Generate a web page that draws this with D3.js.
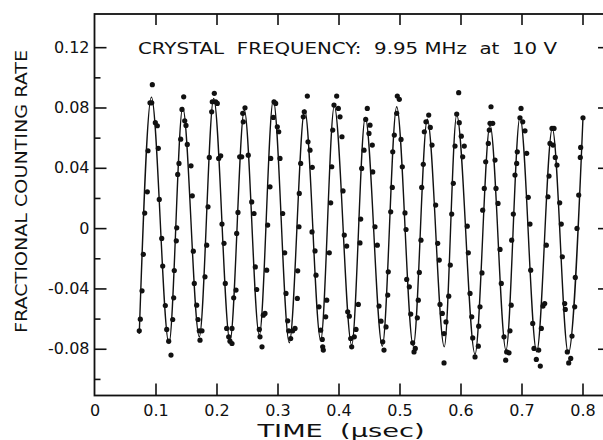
<!DOCTYPE html>
<html><head><meta charset="utf-8">
<script src="https://cdn.jsdelivr.net/npm/d3@7/dist/d3.min.js"></script>
<style>
html,body{margin:0;padding:0;background:#fff;}
svg{display:block;}
text{font-family:"DejaVu Sans",sans-serif;fill:#111;}
</style></head>
<body><svg id="c" width="603" height="440"></svg>
<script>
// ---- data ----
const dotTime = [
0.0734,0.0751,0.0779,0.0800,0.0823,0.0866,0.0877,0.0910,0.0938,0.0948,0.0997,0.1030,0.1046,0.1062,0.1102,0.1118,0.1161,0.1184,0.1216,0.1254,
0.1282,0.1298,0.1308,0.1341,0.1348,0.1364,0.1385,0.1413,0.1434,0.1462,0.1479,0.1500,0.1521,0.1582,0.1603,0.1620,0.1636,0.1675,0.1697,0.1718,0.1730,0.1762,
0.1811,0.1839,0.1861,0.1882,0.1921,0.1931,0.1964,0.1987,0.2013,0.2036,0.2069,0.2090,0.2123,0.2144,0.2167,0.2200,0.2221,0.2254,0.2254,
0.2282,0.2320,0.2331,0.2352,0.2380,0.2413,0.2430,0.2439,0.2467,0.2521,0.2577,0.2615,0.2636,0.2659,0.2702,0.2713,0.2746,
0.2767,0.2795,0.2823,0.2839,0.2877,0.2889,0.2931,0.2943,0.2970,0.2997,0.3020,0.3041,0.3085,0.3118,0.3139,0.3167,0.3184,0.3216,0.3249,
0.3287,0.3325,0.3331,0.3352,0.3357,0.3380,0.3423,0.3439,0.3489,0.3500,0.3533,0.3570,0.3566,0.3615,0.3631,0.3680,0.3708,0.3734,0.3751,0.3741,
0.3790,0.3807,0.3849,0.3872,0.3889,0.3905,0.3926,0.3970,0.3997,0.4025,0.4057,0.4074,0.4095,0.4134,0.4151,0.4177,0.4200,0.4216,0.4259,0.4287,
0.4325,0.4352,0.4364,0.4380,0.4418,0.4446,0.4472,0.4500,0.4516,0.4554,0.4561,0.4598,0.4636,0.4664,0.4697,0.4725,0.4746,0.4779,
0.4807,0.4816,0.4856,0.4882,0.4889,0.4915,0.4954,0.4964,0.4997,0.5025,0.5046,0.5090,0.5107,0.5118,0.5161,0.5184,0.5216,0.5238,0.5259,
0.5292,0.5308,0.5325,0.5352,0.5364,0.5390,0.5407,0.5434,0.5479,0.5505,0.5533,0.5593,0.5626,0.5652,0.5664,0.5702,0.5730,0.5730,0.5762,
0.5807,0.5833,0.5856,0.5882,0.5910,0.5938,0.5970,0.5980,0.6013,0.6036,0.6062,0.6111,0.6128,0.6156,0.6184,0.6200,0.6238,0.6292,
0.6298,0.6320,0.6352,0.6364,0.6390,0.6413,0.6456,0.6472,0.6484,0.6500,0.6528,0.6566,0.6582,0.6615,0.6648,0.6669,0.6713,0.6741,0.6757,0.6795,0.6811,
0.6831,0.6839,0.6866,0.6893,0.6921,0.6931,0.6975,0.6992,0.7020,0.7057,0.7085,0.7111,0.7139,0.7151,0.7184,0.7205,0.7243,0.7282,0.7308,0.7325,
0.7352,0.7380,0.7407,0.7434,0.7451,0.7467,0.7500,0.7533,0.7516,0.7554,0.7582,0.7626,0.7652,0.7669,0.7708,0.7718,0.7751,0.7774,0.7807,0.7828,
0.7872,0.7882,0.7910,0.7938,0.7964,0.7970,0.8008
];
const dotRate = [
-0.0681,-0.0604,-0.0416,-0.0174,0.0100,0.0241,0.0513,0.0831,0.0831,0.0951,0.0699,0.0679,0.0529,0.0190,-0.0068,-0.0252,-0.0513,-0.0672,-0.0750,-0.0842,
-0.0606,-0.0462,-0.0281,-0.0084,0.0002,0.0356,0.0429,0.0590,0.0787,0.0871,0.0712,0.0681,0.0555,0.0413,0.0214,-0.0153,-0.0367,-0.0511,-0.0606,-0.0681,-0.0743,-0.0681,
-0.0323,-0.0113,0.0141,0.0469,0.0771,0.0838,0.0894,0.0838,0.0827,0.0462,0.0480,0.0027,-0.0101,-0.0367,-0.0665,-0.0721,-0.0750,-0.0765,-0.0665,
-0.0462,-0.0411,-0.0035,0.0104,0.0473,0.0473,0.0761,0.0705,0.0798,0.0484,0.0174,0.0097,-0.0257,-0.0407,-0.0672,-0.0721,-0.0787,
-0.0577,-0.0566,-0.0279,0.0020,0.0274,0.0462,0.0734,0.0838,0.0827,0.0672,0.0639,0.0462,0.0097,-0.0164,-0.0433,-0.0615,-0.0681,-0.0732,-0.0681,
-0.0665,-0.0466,-0.0283,0.0009,0.0230,0.0429,0.0738,0.0771,0.0876,0.0572,0.0517,0.0403,-0.0025,-0.0151,-0.0312,-0.0522,-0.0677,-0.0738,-0.0809,-0.0787,
-0.0588,-0.0478,-0.0164,0.0168,0.0407,0.0650,0.0816,0.0876,0.0794,0.0738,0.0606,0.0247,-0.0046,-0.0119,-0.0555,-0.0584,-0.0732,-0.0787,-0.0721,-0.0672,
-0.0506,-0.0098,0.0060,0.0396,0.0517,0.0721,0.0794,0.0628,0.0683,0.0551,0.0373,0.0009,-0.0113,-0.0517,-0.0617,-0.0754,-0.0809,-0.0655,
-0.0444,-0.0290,0.0108,0.0270,0.0506,0.0617,0.0761,0.0876,0.0854,0.0588,0.0407,0.0101,-0.0009,-0.0340,-0.0389,-0.0570,-0.0761,-0.0821,-0.0798,
-0.0595,-0.0478,-0.0294,-0.0080,0.0270,0.0423,0.0639,0.0705,0.0750,0.0668,0.0551,0.0153,-0.0101,-0.0212,-0.0506,-0.0566,-0.0699,-0.0894,-0.0622,
-0.0451,-0.0245,0.0093,0.0297,0.0544,0.0756,0.0898,0.0699,0.0610,0.0473,0.0544,0.0013,-0.0164,-0.0433,-0.0588,-0.0728,-0.0854,-0.0783,
-0.0650,-0.0522,-0.0297,0.0119,0.0263,0.0440,0.0562,0.0650,0.0695,0.0805,0.0695,0.0451,0.0263,0.0164,-0.0141,-0.0367,-0.0721,-0.0876,-0.0821,-0.0827,-0.0681,
-0.0511,-0.0080,0.0093,0.0352,0.0429,0.0506,0.0732,0.0794,0.0705,0.0645,0.0496,0.0204,0.0027,-0.0279,-0.0632,-0.0798,-0.0871,-0.0809,-0.0915,-0.0665,
-0.0517,-0.0500,-0.0113,0.0208,0.0345,0.0562,0.0661,0.0661,0.0551,0.0469,0.0418,0.0168,0.0027,-0.0190,-0.0500,-0.0539,-0.0821,-0.0894,-0.0864,-0.0716,
-0.0522,-0.0327,-0.0002,0.0219,0.0469,0.0535,0.0732
];
// fitted curve: start, alternating peaks/troughs, end
const fitTime = [0.0734,0.0933,0.1221,0.1446,0.1718,0.1954,0.2221,0.2456,0.2702,0.2931,0.3193,0.3446,0.3708,0.3931,0.4216,0.4439,0.4718,0.4954,0.5226,0.5456,0.5734,0.5938,0.6238,0.6484,0.6746,0.6975,0.7249,0.7505,0.7767,0.8008];
const fitRate = [-0.0700,0.0869,-0.0765,0.0801,-0.0721,0.0860,-0.0748,0.0783,-0.0710,0.0849,-0.0760,0.0783,-0.0743,0.0809,-0.0776,0.0734,-0.0783,0.0805,-0.0783,0.0723,-0.0787,0.0750,-0.0836,0.0683,-0.0809,0.0738,-0.0821,0.0661,-0.0831,0.0734];

const xTicks = [0,0.1,0.2,0.3,0.4,0.5,0.6,0.7,0.8];
const xTickLabels = ["0","0.1","0.2","0.3","0.4","0.5","0.6","0.7","0.8"];
const yTicks = [-0.08,-0.04,0,0.04,0.08,0.12];
const yTickLabels = ["-0.08","-0.04","0","0.04","0.08","0.12"];
const yMinorTicks = [-0.10,-0.06,-0.02,0.02,0.06,0.10];
const xTitle = "TIME\u00A0\u00A0(\u03BCsec)";
const yTitle = "FRACTIONAL COUNTING RATE";
const note = "CRYSTAL\u00A0\u00A0FREQUENCY:\u00A0\u00A09.95 MHz\u00A0\u00A0at\u00A0\u00A010 V";

// ---- drawing ----
const svg = d3.select("#c");
svg.append("rect").attr("width",603).attr("height",440).attr("fill","#fff");

const x = d3.scaleLinear().domain([0,0.8]).range([94.5,582.5]);
const y = d3.scaleLinear().domain([-0.111,0.142]).range([395.5,14]);
const xMax = 0.8435;

const ink = "#111";
// frame
svg.append("rect")
  .attr("x",x(0)).attr("y",y(0.142))
  .attr("width",x(xMax)-x(0)).attr("height",y(-0.111)-y(0.142))
  .attr("fill","none").attr("stroke",ink).attr("stroke-width",1.8);

function styleAxis(g){
  g.select(".domain").remove();
  g.selectAll(".tick line").attr("stroke",ink).attr("stroke-width",1.6);
  g.selectAll(".tick text").attr("font-size",16).attr("fill",ink);
}
// left
svg.append("g").attr("transform",`translate(${x(0)},0)`)
  .call(d3.axisLeft(y).tickValues(yTicks).tickSize(-12).tickPadding(5)
    .tickFormat((d,i)=>yTickLabels[i]))
  .call(styleAxis);
svg.append("g").attr("transform",`translate(${x(0)},0)`)
  .call(d3.axisLeft(y).tickValues(yMinorTicks).tickSize(-6).tickFormat(""))
  .call(styleAxis);
// right
svg.append("g").attr("transform",`translate(${x(xMax)},0)`)
  .call(d3.axisRight(y).tickValues(yTicks).tickSize(-11).tickFormat(""))
  .call(styleAxis);
// bottom
svg.append("g").attr("transform",`translate(0,${y(-0.111)})`)
  .call(d3.axisBottom(x).tickValues(xTicks).tickSize(-12).tickPadding(9)
    .tickFormat((d,i)=>xTickLabels[i]))
  .call(styleAxis)
  .call(g=>g.selectAll(".tick").filter(d=>d===0).select("line").remove());
// top
svg.append("g").attr("transform",`translate(0,${y(0.142)})`)
  .call(d3.axisTop(x).tickValues(xTicks.filter(d=>d>0)).tickSize(-11).tickFormat(""))
  .call(styleAxis);

// titles
svg.append("text").attr("x",341).attr("y",437).attr("text-anchor","middle")
  .attr("font-size",17).attr("textLength",167).attr("lengthAdjust","spacingAndGlyphs")
  .text(xTitle);
svg.append("text").attr("transform","translate(27,191.5) rotate(-90)")
  .attr("text-anchor","middle").attr("font-size",16.5)
  .attr("textLength",283).attr("lengthAdjust","spacingAndGlyphs")
  .text(yTitle);
svg.append("text").attr("x",138).attr("y",54).attr("font-size",15.5)
  .attr("textLength",419).attr("lengthAdjust","spacingAndGlyphs")
  .text(note);

// fitted line
const fitPts = fitTime.map((t,i)=>[t,fitRate[i]]);
svg.append("path").datum(fitPts)
  .attr("d",d3.line().x(d=>x(d[0])).y(d=>y(d[1])).curve(d3.curveMonotoneX))
  .attr("fill","none").attr("stroke",ink).attr("stroke-width",1.4);

// dots
const dots = dotTime.map((t,i)=>[t,dotRate[i]]);
svg.append("g").selectAll("circle").data(dots).join("circle")
  .attr("cx",d=>x(d[0])).attr("cy",d=>y(d[1])).attr("r",2.6).attr("fill",ink);
</script></body></html>
